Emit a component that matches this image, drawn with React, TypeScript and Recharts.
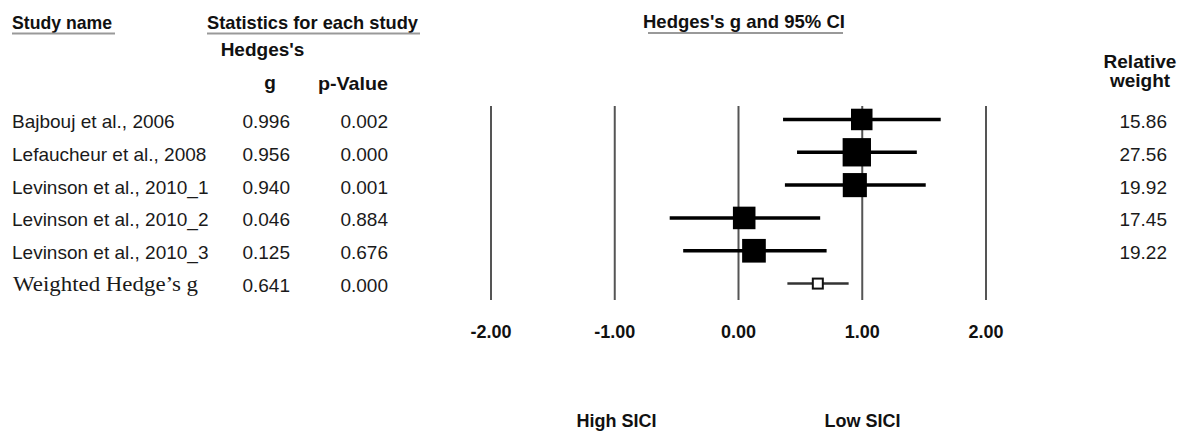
import {
  ScatterChart,
  Scatter,
  XAxis,
  YAxis,
  ErrorBar,
  ReferenceLine,
} from 'recharts';

const studyNames = [
  'Bajbouj et al., 2006',
  'Lefaucheur et al., 2008',
  'Levinson et al., 2010_1',
  'Levinson et al., 2010_2',
  'Levinson et al., 2010_3',
  'Weighted Hedge\u2019s g',
];
const hedgesG = [0.996, 0.956, 0.94, 0.046, 0.125, 0.641];
const pValues = ['0.002', '0.000', '0.001', '0.884', '0.676', '0.000'];
const ciLower = [0.36, 0.473, 0.375, -0.556, -0.447, 0.395];
const ciUpper = [1.634, 1.441, 1.513, 0.66, 0.712, 0.89];
const relWeights = ['15.86', '27.56', '19.92', '17.45', '19.22', ''];
const xTicks = [-2, -1, 0, 1, 2];
const rowTicks = [0, 1, 2, 3, 4, 5];

const SANS = '"Liberation Sans", Arial, sans-serif';
const SERIF = '"Liberation Serif", "DejaVu Serif", serif';

const rows = studyNames.map((name, i) => ({
  row: i,
  name,
  g: hedgesG[i],
  p: pValues[i],
  weight: relWeights[i],
  err: [hedgesG[i] - ciLower[i], ciUpper[i] - hedgesG[i]],
}));
const studyRows = rows.slice(0, 5);
const summaryRows = rows.slice(5);

function StudySquare(props: any) {
  const { cx, cy, payload } = props;
  const side = 5.4 * Math.sqrt(Number(payload.weight));
  return <rect x={cx - side / 2} y={cy - side / 2} width={side} height={side} fill="#000" />;
}

function SummarySquare(props: any) {
  const { cx, cy } = props;
  return <rect x={cx - 5} y={cy - 5} width={10} height={10} fill="#fff" stroke="#111" strokeWidth={2} />;
}

function RowTick(props: any) {
  const { y, payload } = props;
  const r = rows[payload.value];
  if (!r) return null;
  const isSummary = r.row === 5;
  const base = y + 8.5;
  return (
    <g fill="#1a1a1a" fontSize={19} fontFamily={SANS}>
      {isSummary ? (
        <text x={13} y={base - 1} fontFamily={SERIF} fontSize={20} textLength={185} lengthAdjust="spacingAndGlyphs">
          {r.name}
        </text>
      ) : (
        <text x={12} y={base}>{r.name}</text>
      )}
      <text x={290} y={base} textAnchor="end">{r.g.toFixed(3)}</text>
      <text x={388} y={base} textAnchor="end">{r.p}</text>
      <text x={1167} y={base} textAnchor="end">{r.weight}</text>
    </g>
  );
}

const headStyle = { fontFamily: SANS, fontWeight: 700, fontSize: 19, fill: '#111' };

export default function App() {
  return (
    <div style={{ position: 'absolute', left: 0, top: 0, width: 1187, height: 436, background: '#fff' }}>
      <ScatterChart width={1187} height={436} margin={{ top: 106, right: 201, bottom: 96, left: 0 }}>
        <XAxis
          type="number"
          dataKey="g"
          domain={[-2, 2]}
          ticks={xTicks}
          tickFormatter={(v: number) => v.toFixed(2)}
          axisLine={false}
          tickLine={false}
          tickSize={0}
          tickMargin={25}
          height={40}
          tick={{ fill: '#111', fontSize: 18, fontWeight: 700, fontFamily: SANS }}
        />
        <YAxis
          type="number"
          dataKey="row"
          domain={[-0.41, 5.5]}
          ticks={rowTicks}
          reversed
          width={491}
          axisLine={false}
          tickLine={false}
          tick={<RowTick />}
        />
        {xTicks.map((t) => (
          <ReferenceLine key={t} x={t} stroke="#555" strokeWidth={2} />
        ))}
        <Scatter data={studyRows} shape={<StudySquare />} isAnimationActive={false}>
          <ErrorBar dataKey="err" direction="x" width={0} stroke="#000" strokeWidth={3.5} />
        </Scatter>
        <Scatter data={summaryRows} shape={<SummarySquare />} isAnimationActive={false}>
          <ErrorBar dataKey="err" direction="x" width={0} stroke="#333" strokeWidth={2.5} />
        </Scatter>

        <text x={12} y={29} {...headStyle} textLength={100} lengthAdjust="spacingAndGlyphs">Study name</text>
        <line x1={12} x2={115} y1={33.5} y2={33.5} stroke="#999" strokeWidth={2} />
        <text x={207} y={29} {...headStyle} textLength={211} lengthAdjust="spacingAndGlyphs">Statistics for each study</text>
        <line x1={207} x2={420} y1={33.5} y2={33.5} stroke="#999" strokeWidth={2} />
        <text x={643} y={28} {...headStyle} textLength={202} lengthAdjust="spacingAndGlyphs">Hedges's g and 95%  CI</text>
        <line x1={648} x2={843} y1={33} y2={33} stroke="#999" strokeWidth={2} />
        <text x={262.5} y={56} {...headStyle} textAnchor="middle">Hedges's</text>
        <text x={270} y={89} {...headStyle} textAnchor="middle">g</text>
        <text x={318} y={90} {...headStyle} textLength={70} lengthAdjust="spacingAndGlyphs">p-Value</text>
        <text x={1140} y={68} {...headStyle} textAnchor="middle">Relative</text>
        <text x={1140} y={87} {...headStyle} textAnchor="middle">weight</text>
        <text x={616.5} y={427} {...headStyle} fontSize={18} textAnchor="middle">High SICI</text>
        <text x={862.5} y={427} {...headStyle} fontSize={18} textAnchor="middle">Low SICI</text>
      </ScatterChart>
    </div>
  );
}
